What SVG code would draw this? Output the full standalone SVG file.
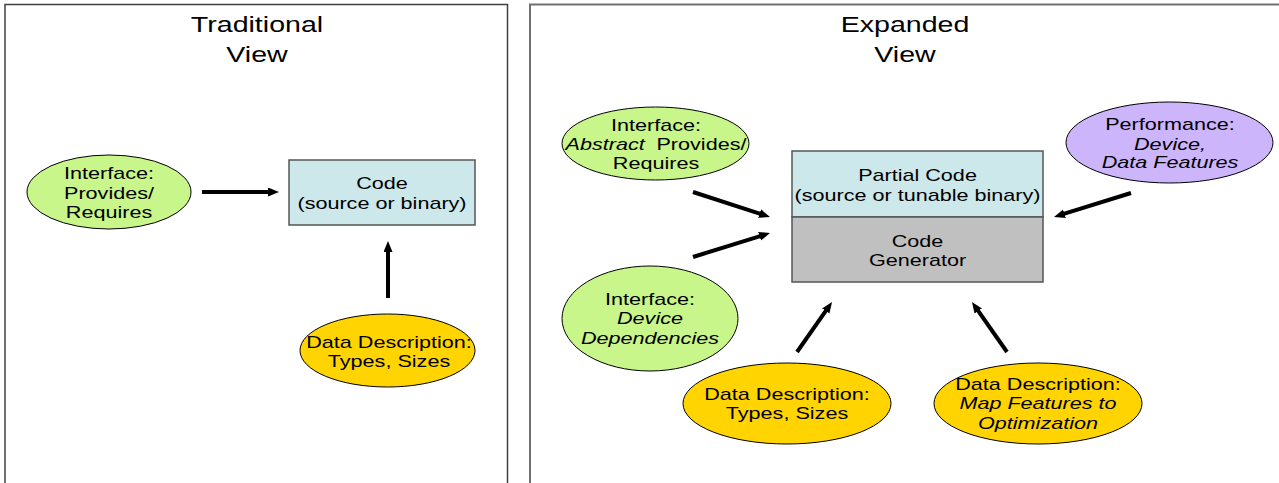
<svg xmlns="http://www.w3.org/2000/svg" width="1279" height="483" viewBox="0 0 1279 483">
<style>
text{font-family:"Liberation Sans",Arial,sans-serif;font-size:17px;fill:#000;text-anchor:middle}
.title{font-size:22.5px}
.it{font-style:italic}
.green{fill:#c8f68a;stroke:#000;stroke-width:1}
.yellow{fill:#ffd400;stroke:#000;stroke-width:1}
.purple{fill:#cdb5fc;stroke:#000;stroke-width:1}
.blue{fill:#cce8ea;stroke:#555;stroke-width:1.5}
.gray{fill:#c0c0c0;stroke:#555;stroke-width:1.5}
.conn{stroke:#000;stroke-width:4;fill:none;marker-end:url(#ah)}
</style>
<defs>
<marker id="ah" markerUnits="userSpaceOnUse" markerWidth="12" markerHeight="10" refX="5" refY="4.5" orient="auto">
<path d="M0,0 L11,4.5 L0,9 z" fill="#000"/>
</marker>
</defs>
<rect width="1279" height="483" fill="#fff"/>
<g id="panel-traditional">
<rect x="5" y="4.5" width="502.5" height="520" fill="none" stroke="#404040" stroke-width="1.5"/>
<g transform="translate(257 0) scale(1.27 1)"><text class="title" x="0" y="32">Traditional</text><text class="title" x="0" y="62">View</text></g>
</g>
<g id="panel-expanded">
<rect x="530" y="4.5" width="800" height="520" fill="none" stroke="#707070" stroke-width="2"/>
<g transform="translate(905 0) scale(1.27 1)"><text class="title" x="0" y="32">Expanded</text><text class="title" x="0" y="62">View</text></g>
</g>
<g id="connectors">
<line class="conn" x1="202" y1="192" x2="273" y2="192"/>
<line class="conn" x1="388" y1="298" x2="388" y2="247"/>
<line class="conn" x1="693" y1="192" x2="764.3" y2="215.1"/>
<line class="conn" x1="693" y1="257" x2="764.3" y2="234.8"/>
<line class="conn" x1="1131" y1="193" x2="1059.7" y2="215.2"/>
<line class="conn" x1="797" y1="352" x2="828.6" y2="306.9"/>
<line class="conn" x1="1007" y1="352" x2="975.4" y2="306.9"/>
</g>
<g id="trad-interface">
<ellipse class="green" cx="109" cy="192" rx="82" ry="37"/>
<g transform="translate(109 0) scale(1.27 1)"><text x="0" y="179">Interface:</text><text x="0" y="199">Provides/</text><text x="0" y="218">Requires</text></g>
</g>
<g id="trad-code">
<rect class="blue" x="289" y="160" width="186" height="65"/>
<g transform="translate(382 0) scale(1.27 1)"><text x="0" y="189">Code</text><text x="0" y="209">(source or binary)</text></g>
</g>
<g id="trad-data">
<ellipse class="yellow" cx="387.5" cy="350.5" rx="87.5" ry="36.5"/>
<g transform="translate(389 0) scale(1.27 1)"><text x="0" y="348">Data Description:</text><text x="0" y="367">Types, Sizes</text></g>
</g>
<g id="exp-interface-abstract">
<ellipse class="green" cx="655.5" cy="143.5" rx="93.5" ry="36.5"/>
<g transform="translate(656 0) scale(1.27 1)"><text x="0" y="131">Interface:</text><text x="0" y="150"><tspan class="it">Abstract</tspan><tspan dx="4.5"> Provides/</tspan></text><text x="0" y="169">Requires</text></g>
</g>
<g id="exp-interface-device">
<ellipse class="green" cx="650" cy="318.5" rx="88" ry="52.5"/>
<g transform="translate(650 0) scale(1.27 1)"><text x="0" y="305">Interface:</text><text class="it" x="0" y="324">Device</text><text class="it" x="0" y="344">Dependencies</text></g>
</g>
<g id="exp-code">
<rect class="blue" x="792" y="151" width="251" height="66"/>
<rect class="gray" x="792" y="217" width="251" height="65"/>
<g transform="translate(917.5 0) scale(1.27 1)"><text x="0" y="181">Partial Code</text><text x="0" y="201">(source or tunable binary)</text><text x="0" y="247">Code</text><text x="0" y="266">Generator</text></g>
</g>
<g id="exp-performance">
<ellipse class="purple" cx="1169.5" cy="142.5" rx="103.5" ry="40.5"/>
<g transform="translate(1170 0) scale(1.27 1)"><text x="0" y="130">Performance:</text><text class="it" x="0" y="150">Device,</text><text class="it" x="0" y="168">Data Features</text></g>
</g>
<g id="exp-data-types">
<ellipse class="yellow" cx="787" cy="403.5" rx="104" ry="40.5"/>
<g transform="translate(787 0) scale(1.27 1)"><text x="0" y="400">Data Description:</text><text x="0" y="419">Types, Sizes</text></g>
</g>
<g id="exp-data-map">
<ellipse class="yellow" cx="1038" cy="403.5" rx="104" ry="40.5"/>
<g transform="translate(1038 0) scale(1.27 1)"><text x="0" y="390">Data Description:</text><text class="it" x="0" y="409">Map Features to</text><text class="it" x="0" y="429">Optimization</text></g>
</g>
</svg>
